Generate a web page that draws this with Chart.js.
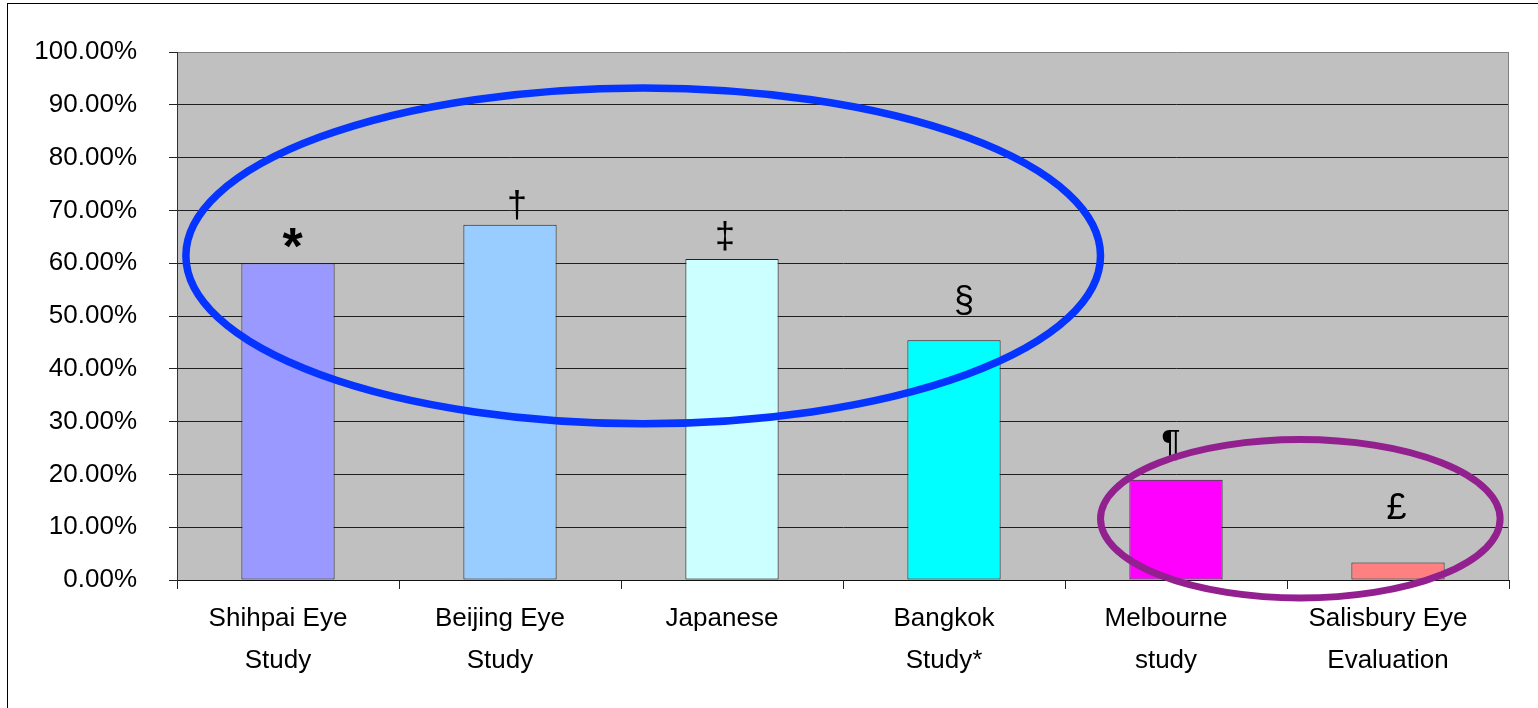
<!DOCTYPE html>
<html>
<head>
<meta charset="utf-8">
<script src="https://cdn.jsdelivr.net/npm/chart.js@4/dist/chart.umd.min.js"></script>
<style>
  html, body { margin: 0; padding: 0; background: #fff; }
  #wrap { width: 1538px; height: 708px; position: relative; }
</style>
</head>
<body>
<div id="wrap"><canvas id="prevChart"></canvas></div>
<script>
  // ---------- Data ----------
  const studies = [
    ["Shihpai Eye", "Study"],
    ["Beijing Eye", "Study"],
    ["Japanese"],
    ["Bangkok", "Study*"],
    ["Melbourne", "study"],
    ["Salisbury Eye", "Evaluation"]
  ];
  const prevalence = [60.0, 67.3, 60.8, 45.4, 19.0, 3.3];
  const footMarks = ["*", "\u2020", "\u2021", "\u00a7", "\u00b6", "\u00a3"];
  const yTicks = [0, 10, 20, 30, 40, 50, 60, 70, 80, 90, 100];

  // ---------- Styles ----------
  const barColors = ["#9999ff", "#99ccff", "#ccffff", "#00ffff", "#ff00ff", "#ff8080"];
  const markLift = [25, 20, 22.5, 40, 34.5, 57]; // px above bar top (glyph centre)
  const markShift = [4.5, 7, -7, 10, -5, -1.5];  // px from bar centre

  // groups circled on the plot: centre in (category index, %), radii in (categories, %)
  const groups = [
    { cx: 1.60, cy: 61.4, rx: 2.06, ry: 31.8, color: "#0533ff", width: 7.5 },
    { cx: 4.56, cy: 11.6, rx: 0.90, ry: 15.0, color: "#93208f", width: 7 }
  ];

  const FONT = "'Liberation Sans', Arial, sans-serif";

  // ---------- Plugins ----------
  const plotBg = {
    id: "plotBg",
    beforeDraw(chart) {
      const { ctx, chartArea: a } = chart;
      ctx.save();
      // outer frame (only top/left edges fall inside the canvas)
      ctx.strokeStyle = "#000";
      ctx.lineWidth = 1;
      ctx.strokeRect(7.5, 3.5, chart.width + 20, chart.height + 20);
      ctx.fillStyle = "#c0c0c0";
      ctx.fillRect(a.left, a.top, a.right - a.left, a.bottom - a.top);
      ctx.restore();
    },
    afterDatasetsDraw(chart) {
      const { ctx, chartArea: a } = chart;
      ctx.save();
      ctx.strokeStyle = "#808080";
      ctx.lineWidth = 1;
      ctx.beginPath();
      ctx.moveTo(Math.round(a.right) - 0.5, a.top);
      ctx.lineTo(Math.round(a.right) - 0.5, a.bottom);
      ctx.stroke();
      ctx.restore();
    }
  };

  const marks = {
    id: "marks",
    afterDatasetsDraw(chart) {
      const { ctx } = chart;
      const meta = chart.getDatasetMeta(0);
      ctx.save();
      ctx.fillStyle = "#000";
      ctx.textAlign = "center";
      ctx.textBaseline = "alphabetic";
      meta.data.forEach((bar, i) => {
        ctx.font = (i === 0 ? "bold 52px " : "36px ") + FONT;
        const m = ctx.measureText(footMarks[i]);
        const cy = bar.y - markLift[i];
        const base = cy + (m.actualBoundingBoxAscent - m.actualBoundingBoxDescent) / 2;
        ctx.fillText(footMarks[i], bar.x + markShift[i], base);
      });
      ctx.restore();
    }
  };

  const rings = {
    id: "rings",
    afterDraw(chart) {
      const { ctx, scales: { x, y } } = chart;
      ctx.save();
      groups.forEach(g => {
        const px = x.getPixelForValue(g.cx);
        const py = y.getPixelForValue(g.cy);
        const rx = x.getPixelForValue(g.cx + g.rx) - px;
        const ry = py - y.getPixelForValue(g.cy + g.ry);
        ctx.strokeStyle = g.color;
        ctx.lineWidth = g.width;
        ctx.beginPath();
        ctx.ellipse(px, py, rx, ry, 0, 0, Math.PI * 2);
        ctx.stroke();
      });
      ctx.restore();
    }
  };

  // ---------- Chart ----------
  new Chart(document.getElementById("prevChart"), {
    type: "bar",
    data: {
      labels: studies,
      datasets: [{
        data: prevalence,
        backgroundColor: barColors,
        borderColor: "#222",
        borderWidth: 1,
        borderSkipped: false,
        barPercentage: 0.42,
        categoryPercentage: 1
      }]
    },
    options: {
      responsive: true,
      maintainAspectRatio: false,
      animation: false,
      layout: { padding: { left: 0, top: 52, right: 29, bottom: 0 } },
      plugins: { legend: { display: false }, tooltip: { enabled: false } },
      scales: {
        x: {
          offset: true,
          afterFit: (s) => { s.height = 128; },
          grid: {
            offset: true,
            drawOnChartArea: false,
            drawTicks: true,
            tickLength: 9,
            tickColor: "#222"
          },
          border: { color: "#111", width: 1 },
          ticks: {
            color: "#000",
            padding: 9,
            labelOffset: -10,
            maxRotation: 0,
            autoSkip: false,
            font: { family: FONT, size: 26, lineHeight: 1.6 }
          }
        },
        y: {
          min: 0,
          max: 100,
          afterFit: (s) => { s.width = 177; },
          afterBuildTicks: (s) => { s.ticks = yTicks.map(v => ({ value: v })); },
          grid: {
            color: (c) => (c.tick && c.tick.value === 100 ? "#808080" : "#1e1e1e"),
            tickColor: "#222",
            tickLength: 8,
            lineWidth: 1
          },
          border: { color: "#3a2a2a", width: 1 },
          ticks: {
            color: "#000",
            padding: 32,
            font: { family: FONT, size: 26 },
            callback: (v) => v.toFixed(2) + "%"
          }
        }
      }
    },
    plugins: [plotBg, marks, rings]
  });
</script>
</body>
</html>
